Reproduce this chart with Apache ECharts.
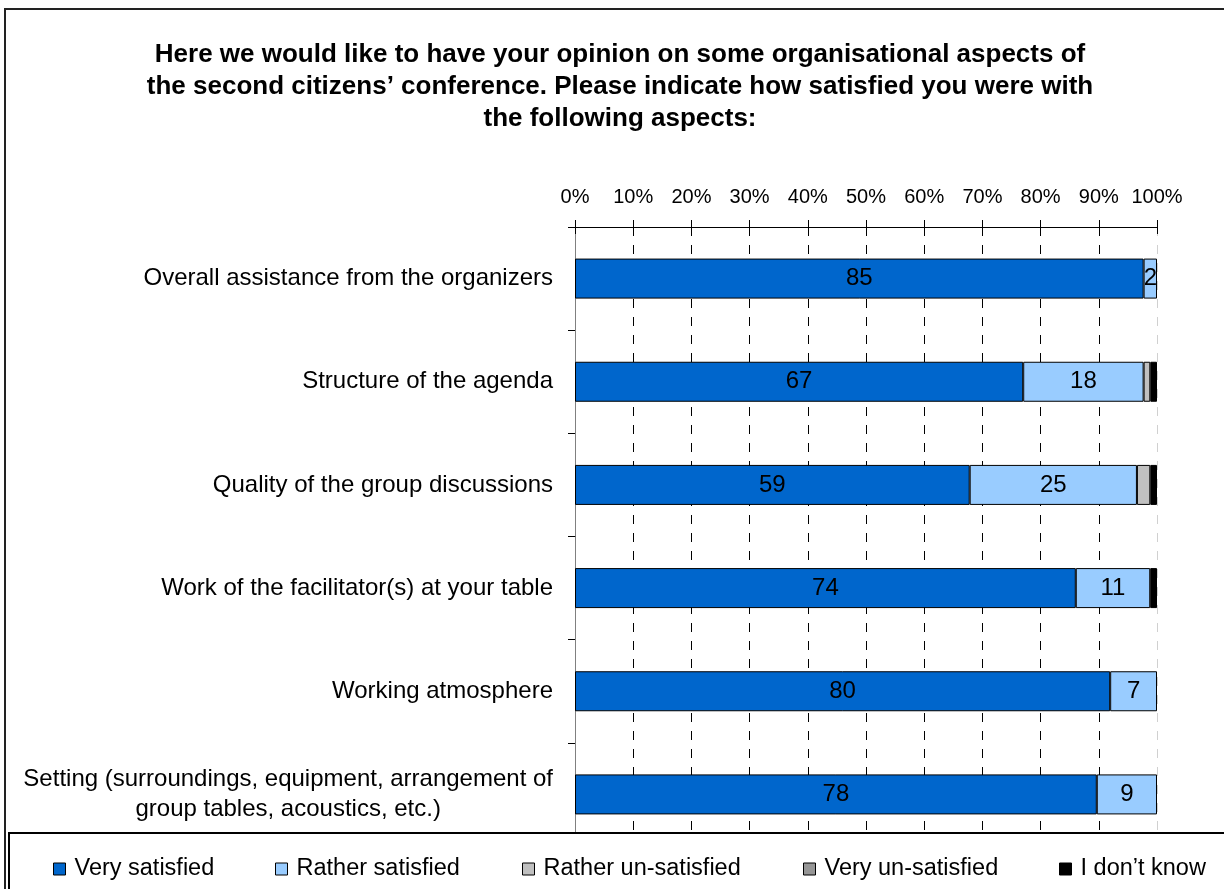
<!DOCTYPE html>
<html>
<head>
<meta charset="utf-8">
<script src="https://cdn.jsdelivr.net/npm/echarts@6/dist/echarts.min.js"></script>
<style>
  html, body { margin: 0; padding: 0; background: #fff; }
  #chart { width: 1224px; height: 889px; }
</style>
</head>
<body>
<div id="chart"></div>
<script>
// Survey aspects, top to bottom
const categories = [
  'Overall assistance from the organizers',
  'Structure of the agenda',
  'Quality of the group discussions',
  'Work of the facilitator(s) at your table',
  'Working atmosphere',
  'Setting (surroundings, equipment, arrangement of\ngroup tables, acoustics, etc.)'
];

// Number of respondents per answer
const verySatisfied     = [85, 67, 59, 74, 80, 78];
const ratherSatisfied   = [2, 18, 25, 11, 7, 9];
const ratherUnsatisfied = [0, 1, 2, 0, 0, 0];
const veryUnsatisfied   = [0, 0, 0, 0, 0, 0];
const dontKnow          = [0, 1, 1, 1, 0, 0];

const seriesNames = ['Very satisfied', 'Rather satisfied', 'Rather un-satisfied', 'Very un-satisfied', "I don't know"];
const legendTexts = ['Very satisfied', 'Rather satisfied', 'Rather un-satisfied', 'Very un-satisfied', 'I don\u2019t know'];
const seriesCounts = [verySatisfied, ratherSatisfied, ratherUnsatisfied, veryUnsatisfied, dontKnow];
const seriesColors = ['#0066cc', '#99ccff', '#c0c0c0', '#969696', '#000000'];
const labelledSeries = [true, true, false, false, false];

const FONT = '"Liberation Sans", Arial, Helvetica, sans-serif';

// Row totals, so each bar fills 100%
const totals = categories.map((_, i) => seriesCounts.reduce((s, arr) => s + arr[i], 0));

const series = seriesCounts.map((counts, k) => ({
  name: seriesNames[k],
  type: 'bar',
  stack: 'share',
  barWidth: 40,
  xAxisIndex: 0,
  itemStyle: { color: seriesColors[k], borderColor: '#000', borderWidth: 1 },
  label: {
    show: labelledSeries[k],
    position: 'inside',
    color: '#000',
    fontSize: 24,
    fontFamily: FONT,
    formatter: p => String(counts[p.dataIndex])
  },
  emphasis: { disabled: true },
  data: counts.map((c, i) => c === 0 ? '-' : (c / totals[i]) * 100)
}));

// Grid line colours: interior lines dashed black, right edge faint
const gridColors = ['#000', '#000', '#000', '#000', '#000', '#000', '#000', '#000', '#000', '#000', '#d0d0d0'];

const legendLefts = [48, 270, 517, 798, 1054];
const legends = seriesNames.map((n, k) => ({
  data: [n],
  left: legendLefts[k],
  top: 852,
  z: 100,
  icon: 'rect',
  itemWidth: 12,
  itemHeight: 12,
  selectedMode: false,
  formatter: () => legendTexts[k],
  itemStyle: { borderColor: '#000', borderWidth: 1 },
  textStyle: { fontSize: 23.5, fontFamily: FONT, color: '#000', padding: [0, 0, 0, 4] }
}));

const option = {
  animation: false,
  backgroundColor: '#fff',
  title: {
    text: 'Here we would like to have your opinion on some organisational aspects of\nthe second citizens\u2019 conference. Please indicate how satisfied you were with\nthe following aspects:',
    left: 615,
    top: 34,
    textAlign: 'center',
    textStyle: { fontSize: 26, fontWeight: 'bold', fontFamily: FONT, color: '#000', lineHeight: 32 }
  },
  legend: legends,
  grid: { left: 575, right: 67, top: 227, bottom: 43, containLabel: false },
  xAxis: [
    {
      type: 'value',
      position: 'top',
      min: 0, max: 100, interval: 10,
      axisLine: { show: true, lineStyle: { color: '#000', width: 1 } },
      axisTick: { show: true, inside: false, length: 7, lineStyle: { color: '#000' } },
      axisLabel: { formatter: '{value}%', fontSize: 20, fontFamily: FONT, color: '#000', margin: 20 },
      splitLine: { show: true, lineStyle: { color: gridColors, type: [9, 9], width: 1 } }
    },
    {
      type: 'value',
      position: 'top',
      min: 0, max: 100, interval: 10,
      axisLine: { show: false },
      axisTick: { show: true, inside: true, length: 7, lineStyle: { color: '#000' } },
      axisLabel: { show: false },
      splitLine: { show: false }
    }
  ],
  yAxis: {
    type: 'category',
    inverse: true,
    data: categories,
    axisLine: { show: true, lineStyle: { color: '#808080', width: 1 } },
    axisTick: { show: true, length: 7, lineStyle: { color: '#000' } },
    axisLabel: {
      margin: 22,
      fontSize: 24,
      fontFamily: FONT,
      color: '#000',
      lineHeight: 30,
      formatter: v => v.split('\n').map(l => '{c|' + l + '}').join('\n'),
      rich: { c: { align: 'center', fontSize: 24, fontFamily: FONT, color: '#000', lineHeight: 30 } }
    }
  },
  graphic: [
    {
      type: 'rect',
      z: 0,
      silent: true,
      shape: { x: 5, y: 9, width: 1260, height: 920 },
      style: { fill: 'none', stroke: '#222', lineWidth: 2 }
    },
    {
      type: 'rect',
      z: 50,
      silent: true,
      shape: { x: 9, y: 833, width: 1260, height: 120 },
      style: { fill: '#fff', stroke: '#000', lineWidth: 2 }
    }
  ],
  series: series
};

const chart = echarts.init(document.getElementById('chart'), null, { renderer: 'canvas' });
chart.setOption(option);
</script>
</body>
</html>
